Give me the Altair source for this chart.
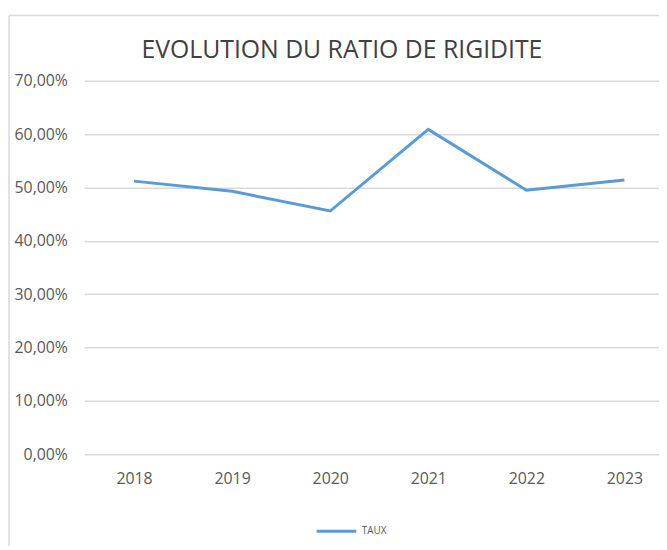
import altair as alt
import pandas as pd

years = ["2018", "2019", "2020", "2021", "2022", "2023"]
taux = [0.512, 0.493, 0.456, 0.609, 0.495, 0.514]
series = ["TAUX"] * len(years)
title_text = ["EVOLUTION DU RATIO DE RIGIDITE"]

df = pd.DataFrame({"annee": years, "taux": taux, "serie": series})

W, H = 580, 377
PAD_L, PAD_T = 77, 71

grey_txt = "#595959"
grid = "#d9d9d9"

base = alt.Chart(df)

line = base.mark_line(strokeWidth=3, color="#5b9bd5").encode(
    x=alt.X(
        "annee:O",
        sort=years,
        scale=alt.Scale(type="point", padding=0.43, align=0.59),
        axis=alt.Axis(
            title=None, domain=False, ticks=False, grid=False,
            labelAngle=0, labelFontSize=16, labelColor=grey_txt,
            labelPadding=16, labelFont="Open Sans",
        ),
    ),
    y=alt.Y(
        "taux:Q",
        scale=alt.Scale(domain=[0, 0.7], nice=False),
        axis=alt.Axis(
            title=None, domain=False, ticks=False,
            values=[0, 0.1, 0.2, 0.3, 0.4, 0.5, 0.6, 0.7],
            labelExpr="replace(format(datum.value, '.2%'), '.', ',')",
            labelFontSize=16, labelColor=grey_txt, labelPadding=17,
            labelFont="Open Sans",
            gridColor=grid, gridWidth=1.5,
        ),
    ),
    stroke=alt.Stroke(
        "serie:N",
        scale=alt.Scale(range=["#5b9bd5"]),
        legend=alt.Legend(
            title=None, orient="none", legendX=233, legendY=433,
            symbolType="stroke", symbolStrokeWidth=3, symbolSize=1600,
            labelFontSize=10, labelColor=grey_txt, labelFont="Open Sans",
            direction="horizontal",
        ),
    ),
)

one = pd.DataFrame({"t": title_text})

border = alt.Chart(one).mark_rule(color="#d9d9d9", strokeWidth=1.5).encode(
    x=alt.value(-PAD_L + 1), y=alt.value(-PAD_T + 5), y2=alt.value(H + 100)
)
border_top = alt.Chart(one).mark_rule(color="#d9d9d9", strokeWidth=1.5).encode(
    x=alt.value(-PAD_L + 1), x2=alt.value(W + 20), y=alt.value(-PAD_T + 5)
)
title = alt.Chart(one).mark_text(
    fontSize=25, font="Open Sans", color="#404040",
    align="center", baseline="alphabetic",
).encode(text="t:N", x=alt.value(260), y=alt.value(-23))

chart = (
    alt.layer(border, border_top, title, line)
    .properties(
        width=W, height=H,
        autosize=alt.AutoSizeParams(type="none"),
        padding={"left": PAD_L, "top": PAD_T, "right": 0, "bottom": 90},
    )
    .configure_view(stroke=None, clip=False)
)

chart.save("out.html", embed_options={"renderer": "svg", "actions": False})
